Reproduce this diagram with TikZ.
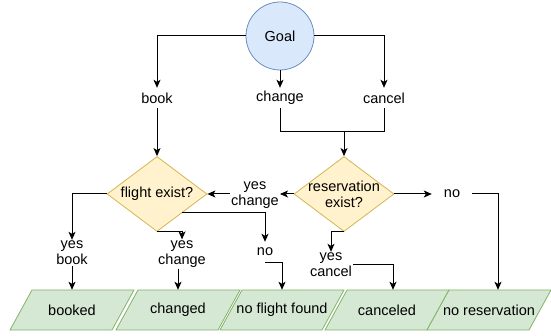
\documentclass[tikz,border=0pt]{standalone}
\usepackage{fontspec}
\setmainfont{Liberation Sans}
\usetikzlibrary{arrows.meta,positioning,shapes.geometric}

\definecolor{goalfill}{HTML}{DAE8FC}
\definecolor{goalline}{HTML}{6C8EBF}
\definecolor{askfill}{HTML}{FFF2CC}
\definecolor{askline}{HTML}{D6B656}
\definecolor{endfill}{HTML}{D5E8D4}
\definecolor{endline}{HTML}{82B366}

\tikzset{
    flow/.style={line width=1pt, -{Stealth[length=8pt,width=7pt,inset=2pt]}},
    plain/.style={line width=1pt},
    tag/.style={font=\fontsize{14.5}{16}\selectfont, align=center,
        inner sep=1pt, minimum height=20pt},
    goalnode/.style={circle, draw=goalline, fill=goalfill, line width=0.8pt,
        minimum size=68pt, inner sep=0pt, font=\fontsize{14.5}{16}\selectfont},
    ask/.style={diamond, draw=askline, fill=askfill, line width=0.8pt,
        minimum width=100pt, minimum height=75pt, inner sep=0pt},
    outline/.style={draw=endline, fill=endfill, line width=0.8pt},
    outcome/.style={minimum width=102pt, minimum height=40pt, inner sep=0pt,
        font=\fontsize{14.5}{16}\selectfont}
}

\begin{document}
\begin{tikzpicture}[x=1pt,y=-1pt]
    \useasboundingbox (0,0) rectangle (551,336);

    \node[goalnode] (goal) at (280,36) {Goal};
    \node[tag] (book) at (157,98) {book};
    \node[tag] (change) at (280,98) {change};
    \node[tag] (cancel) at (384,98) {cancel};
    \coordinate (join) at (344,132);

    \node[ask, label={[tag]center:flight exist?}] (flight) at (157,194) {};
    \node[ask, label={[tag]center:{reservation\\exist?}}] (reserve)
        at (344,194) {};

    \node[tag] (yeschg) at (255,195) {yes\\change};
    \node[tag, minimum width=40pt] (nores) at (452,194) {no};
    \node[tag] (yesbook) at (72,253) {yes\\book};
    \node[tag] (yeschg2) at (182,254) {yes\\change};
    \node[tag] (noflt) at (265,252) {no};
    \node[tag] (yescan) at (331,265) {yes\\cancel};

    % result parallelograms
    \foreach \name/\x/\txt in {booked/72/booked, changed/178/changed,
        nofound/282/no flight found, canceled/387/canceled,
        noresv/489/no reservation}{
        \filldraw[outline] (\x-62,330) -- (\x+40,330) -- (\x+62,290)
            -- (\x-40,290) -- cycle;
        \node[outcome] (\name) at (\x,310) {\txt};
    }

    \draw[flow] (goal.west) -| (book.north);
    \draw[flow] (goal.south) -- (change.north);
    \draw[flow] (goal.east) -| (cancel.north);
    \draw[flow] (book.south) -- (flight.north);
    \draw[plain] (change.south) |- (join);
    \draw[plain] (cancel.south) |- (join);
    \draw[flow] (join) -- (reserve.north);

    \draw[flow] (reserve.west) -- (reserve.west -| yeschg.east);
    \draw[flow] (yeschg.west |- flight.east) -- (flight.east);
    \draw[flow] (reserve.east) -- (nores.west);
    \draw[flow] (nores.east) -| ([xshift=9pt]noresv.north);
    \draw[flow] (reserve.south) -| (yescan.north);
    \draw[flow] (yescan.east) -| ([xshift=6pt]canceled.north);

    \draw[flow] (flight.west) -| (yesbook.north);
    \draw[flow] (yesbook.south) -- (booked.north);
    \draw[flow] (flight.south) -| (yeschg2.north);
    \draw[flow] (yeschg2.south -| changed.north) -- (changed.north);
    \draw[flow] (flight.south east) -| (noflt.north);
    \draw[flow] (noflt.south) -| (nofound.north);
\end{tikzpicture}
\end{document}
